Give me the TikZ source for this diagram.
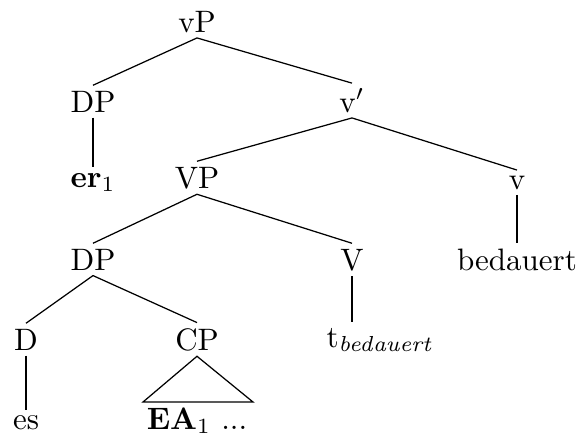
\documentclass[tikz,border=0pt]{standalone}
\begin{document}
\begin{tikzpicture}[x=0.3226pt,y=-0.3226pt,
  lab/.style={anchor=base, inner xsep=0pt, inner ysep=1.6pt},
  br/.style={draw=black, line width=0.4pt}]
\useasboundingbox (0,0) rectangle (578,434);
% row 1
\node[lab] (vP) at (197,32) {vP};
% row 2
\node[lab] (DP1) at (93,112) {DP};
\node[lab] (vbar) at (352,112) {v$'$};
% row 3
\node[lab] (er) at (93,187) {\textbf{er}$_1$};
\node[lab] (VP) at (197,188) {VP};
\node[lab] (v) at (517,189) {v};
% row 4
\node[lab] (DP2) at (93,270) {DP};
\node[lab] (V) at (352,270) {V};
\node[lab] (bed) at (517,270) {bedauert};
% row 5
\node[lab] (D) at (26,350) {D};
\node[lab] (CP) at (197,350) {CP};
\node[lab, anchor=base west] (t) at (326,347) {t$_{\mathit{bedauert}}$};
% row 6
\node[lab] (es) at (26,429) {es};
\node[lab] (EA) at (197,429) {\textbf{EA}$_1$ ...};
\coordinate (triL) at (143,402);
\coordinate (triR) at (253,402);
% edges
\draw[br] (vP.south) -- (DP1.north);
\draw[br] (vP.south) -- (vbar.north);
\draw[br] (DP1.south) -- (er.north);
\draw[br] (vbar.south) -- (VP.north);
\draw[br] (vbar.south) -- (v.north);
\draw[br] (VP.south) -- (DP2.north);
\draw[br] (VP.south) -- (V.north);
\draw[br] (v.south) -- (bed.north);
\draw[br] (DP2.south) -- (D.north);
\draw[br] (DP2.south) -- (CP.north);
\draw[br] (V.south) -- (V.south |- t.north);
\draw[br] (D.south) -- (es.north);
\draw[br] (CP.south) -- (triL) -- (triR) -- cycle;
\end{tikzpicture}
\end{document}
